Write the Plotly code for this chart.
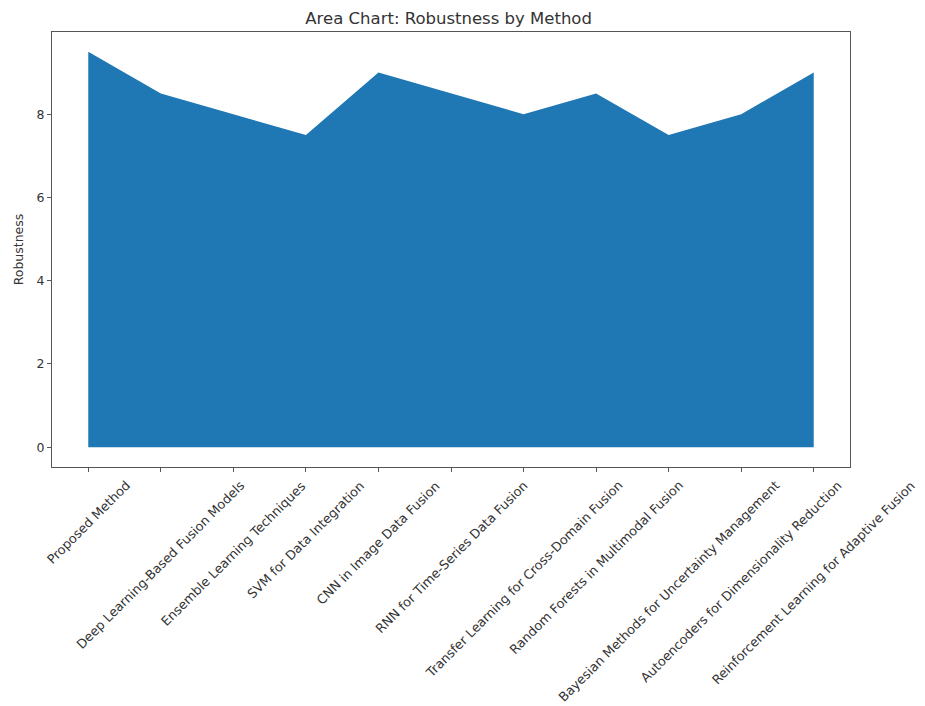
import plotly.graph_objects as go

methods = [
    "Proposed Method",
    "Deep Learning-Based Fusion Models",
    "Ensemble Learning Techniques",
    "SVM for Data Integration",
    "CNN in Image Data Fusion",
    "RNN for Time-Series Data Fusion",
    "Transfer Learning for Cross-Domain Fusion",
    "Random Forests in Multimodal Fusion",
    "Bayesian Methods for Uncertainty Management",
    "Autoencoders for Dimensionality Reduction",
    "Reinforcement Learning for Adaptive Fusion",
]
robustness = [9.5, 8.5, 8.0, 7.5, 9.0, 8.5, 8.0, 8.5, 7.5, 8.0, 9.0]
y_ticks = [0, 2, 4, 6, 8]

x_idx = list(range(len(methods)))
FONT = "DejaVu Sans"
TXT = "#333"

fig = go.Figure()
fig.add_trace(go.Scatter(
    x=x_idx, y=robustness, mode="lines", fill="tozeroy",
    fillcolor="#1f77b4", line=dict(width=0, color="#1f77b4"),
    showlegend=False, hoverinfo="skip",
))

axis_common = dict(
    showline=True, linecolor="#555", linewidth=1, mirror=True,
    ticks="outside", ticklen=4, tickcolor="#555",
    showgrid=False, zeroline=False,
    tickfont=dict(family=FONT, size=12.5, color=TXT),
)

# x-axis tick labels rotated 45 deg, centred under each tick (matplotlib style)
for i, name in zip(x_idx, methods):
    fig.add_annotation(
        x=i, xref="x", y=0, yref="paper", yanchor="top", xanchor="center",
        yshift=-8, textangle=-45, showarrow=False, text=name,
        font=dict(family=FONT, size=12.8, color=TXT),
    )

fig.update_layout(
    width=925, height=706,
    margin=dict(l=52, r=75, t=32, b=239),
    paper_bgcolor="white", plot_bgcolor="white",
    title=dict(text="Area Chart: Robustness by Method", x=0.485, xanchor="center",
               y=0.974, yanchor="middle",
               font=dict(family=FONT, size=16.5, color=TXT)),
    xaxis=dict(range=[-0.5, 10.5], tickmode="array", tickvals=x_idx,
               showticklabels=False, **axis_common),
    yaxis=dict(range=[-0.475, 9.975], tickmode="array", tickvals=y_ticks,
               ticktext=[str(v) for v in y_ticks],
               title=dict(text="Robustness", standoff=10,
                          font=dict(family=FONT, size=12.5, color=TXT)),
               **axis_common),
)

fig.write_html("out.html")
